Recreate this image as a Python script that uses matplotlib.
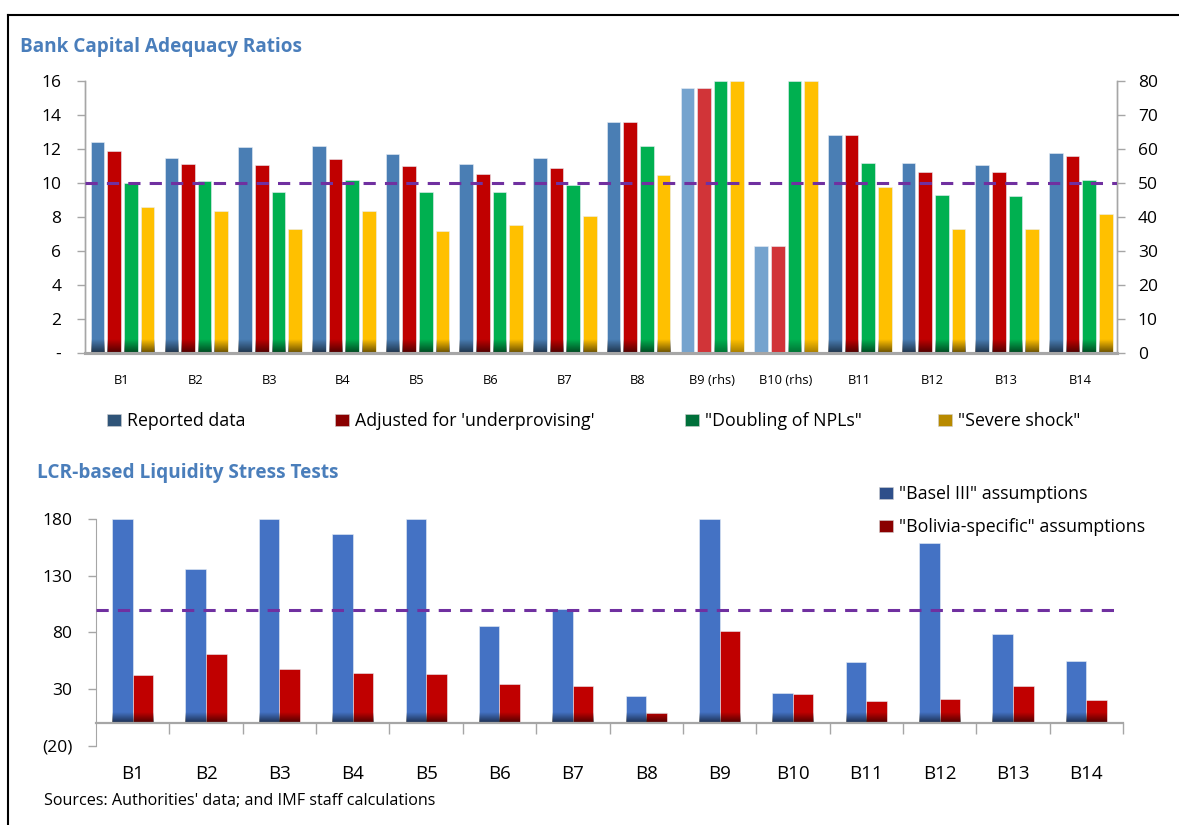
import numpy as np
import matplotlib
matplotlib.use("Agg")
import matplotlib.pyplot as plt
from matplotlib.patches import Patch
from matplotlib.lines import Line2D

plt.rcParams['font.family'] = ['Open Sans', 'DejaVu Sans']

# ---------------- data ----------------
banks = ["B1", "B2", "B3", "B4", "B5", "B6", "B7", "B8", "B9", "B10",
         "B11", "B12", "B13", "B14"]
top_labels = ["B1", "B2", "B3", "B4", "B5", "B6", "B7", "B8", "B9 (rhs)",
              "B10 (rhs)", "B11", "B12", "B13", "B14"]
nan = np.nan
# left axis (B9, B10 on right axis)
reported = [12.4, 11.5, 12.1, 12.2, 11.7, 11.1, 11.5, 13.6, nan, nan, 12.8, 11.15, 11.05, 11.75]
adjusted = [11.9, 11.1, 11.05, 11.4, 11.0, 10.55, 10.9, 13.6, nan, nan, 12.8, 10.65, 10.65, 11.6]
doubling = [10.0, 10.1, 9.45, 10.2, 9.45, 9.45, 9.9, 12.15, nan, nan, 11.15, 9.3, 9.25, 10.15]
severe = [8.6, 8.35, 7.3, 8.35, 7.2, 7.55, 8.05, 10.5, nan, nan, 9.75, 7.3, 7.3, 8.2]
# right axis (rhs) values for B9, B10
rhs_banks = [8, 9]
reported_rhs = [78, 31.5]
adjusted_rhs = [78, 31.5]
doubling_rhs = [80, 80]
severe_rhs = [80, 80]
car_threshold = 10

basel = [180, 136, 180, 167, 180, 86, 101, 24, 180, 26.5, 53.5, 158.5, 78.5, 54.5]
bolivia = [42, 61, 48, 44, 43, 34, 33, 9, 81, 25.5, 19, 21.5, 33, 20.5]
lcr_threshold = 100

series_names = ["Reported data", "Adjusted for 'underprovising'",
                "\"Doubling of NPLs\"", "\"Severe shock\""]
lcr_names = ["\"Basel III\" assumptions", "\"Bolivia-specific\" assumptions"]

# ---------------- style ----------------
C_BLUE = "#4A7EB4"
C_RED = "#C00000"
C_GREEN = "#00B050"
C_YEL = "#FFC000"
C_LBLUE = "#75A3CE"
C_LRED = "#D13438"
H_BLUE = "#2F5478"
H_RED = "#8A0000"
H_GREEN = "#00703A"
H_YEL = "#B88A00"
C_BASEL = "#4472C4"
C_BOL = "#C00000"
PURPLE = "#7030A0"
TITLE_C = "#4A7EBB"
SPINE_C = "#A6A6A6"

W, H = 1179, 825
fig = plt.figure(figsize=(W / 100, H / 100), dpi=100)

def fx(px):
    return px / W

def fy(py):
    return 1 - py / H

# frame
fig.add_artist(Line2D([fx(8), fx(8)], [fy(15), fy(830)], color="black", lw=1.5))
fig.add_artist(Line2D([fx(8), fx(1185)], [fy(15), fy(15)], color="black", lw=1.5))

def shade(ax, rects, px=13, alpha=0.6):
    grad = np.zeros((40, 1, 4))
    grad[:, 0, 3] = np.linspace(alpha, 0, 40)
    y0 = ax.transData.transform((0, 0))[1]
    yd = ax.transData.inverted().transform((0, y0 + px))[1]
    for r in rects:
        h = r.get_height()
        if not np.isfinite(h) or h <= 0:
            continue
        x0 = r.get_x()
        w = r.get_width()
        ax.imshow(grad, extent=[x0, x0 + w, 0, min(yd, h)], origin="lower",
                  aspect="auto", zorder=r.get_zorder() + 0.1, interpolation="bilinear")

# ---------------- top chart ----------------
ax = fig.add_axes([fx(85), fy(353), fx(1117 - 85), (353 - 81) / H])
ax2 = ax.twinx()
x = np.arange(len(banks))
step = 0.226
bw = 0.185
offs = np.array([-1.5, -0.5, 0.5, 1.5]) * step + 0.01
left_series = [reported, adjusted, doubling, severe]
right_series = [reported_rhs, adjusted_rhs, doubling_rhs, severe_rhs]
lcols = [C_BLUE, C_RED, C_GREEN, C_YEL]
rcols = [C_LBLUE, C_LRED, C_GREEN, C_YEL]

ax.set_xlim(-0.5, len(banks) - 0.5)
ax.set_ylim(0, 16)
ax2.set_ylim(0, 80)

left_containers = []
for i in range(4):
    bc = ax.bar(x + offs[i], left_series[i], bw, color=lcols[i],
                edgecolor="#E8EEF5", linewidth=0.4, zorder=2)
    left_containers.append(bc)
right_containers = []
for i in range(4):
    bc = ax2.bar(np.array(rhs_banks) + offs[i], right_series[i], bw, color=rcols[i],
                 edgecolor="#E8EEF5", linewidth=0.4, zorder=2)
    right_containers.append(bc)
ax.set_xlim(-0.5, len(banks) - 0.5)
ax.set_ylim(0, 16)
ax2.set_ylim(0, 80)
for bc in left_containers:
    shade(ax, bc.patches, px=14)
for bc, c in zip(right_containers, rcols):
    if c in (C_GREEN, C_YEL):
        shade(ax2, bc.patches, px=14, alpha=0.35)
ax.set_xlim(-0.5, len(banks) - 0.5)
ax.set_ylim(0, 16)
ax2.set_ylim(0, 80)

ax2.axhline(car_threshold * 5, color=PURPLE, lw=2.2, ls=(0, (4, 3)), zorder=5)

ax.set_yticks(np.arange(0, 17, 2))
ax.set_yticklabels(["-"] + [str(v) for v in range(2, 17, 2)])
ax2.set_yticks(np.arange(0, 81, 10))
ax.set_xticks(x)
ax.set_xticklabels(top_labels)
ax.tick_params(axis="x", length=0, pad=15, labelsize=9.3)
ax.tick_params(axis="y", length=6, width=1, color=SPINE_C, labelsize=12.5, pad=11)
ax2.tick_params(axis="y", length=6, width=1, color=SPINE_C, labelsize=12.5, pad=9)
for a in (ax, ax2):
    a.spines["top"].set_visible(False)
    for s in ("left", "right"):
        a.spines[s].set_color(SPINE_C)
        a.spines[s].set_linewidth(1)
    a.spines["bottom"].set_color(SPINE_C)
    a.spines["bottom"].set_linewidth(2.2)
    a.patch.set_visible(False)

fig.text(fx(20), fy(47), "Bank Capital Adequacy Ratios", fontsize=13.7,
         fontweight="bold", color=TITLE_C, va="center", ha="left")

handles = [Patch(facecolor=c, edgecolor="#D0D0D0", linewidth=0.4)
           for c in [H_BLUE, H_RED, H_GREEN, H_YEL]]
legend_x = [107, 335, 685, 938]
for hdl, name, lx in zip(handles, series_names, legend_x):
    lg = fig.legend([hdl], [name], loc="center left",
                    bbox_to_anchor=(fx(lx), fy(421)), frameon=False, fontsize=12.8,
                    handlelength=0.8, handleheight=0.7, handletextpad=0.3,
                    borderpad=0, borderaxespad=0)

# ---------------- bottom chart ----------------
bx = fig.add_axes([fx(96), fy(745.7), fx(1123 - 96), (745.7 - 519) / H])
lw = 0.28
b1 = bx.bar(x - lw / 2, basel, lw, color=C_BASEL, edgecolor="#E8EEF5",
            linewidth=0.4, zorder=2, label=lcr_names[0])
b2 = bx.bar(x + lw / 2, bolivia, lw, color=C_BOL, edgecolor="#E8EEF5",
            linewidth=0.4, zorder=2, label=lcr_names[1])
bx.set_xlim(-0.5, len(banks) - 0.5)
bx.set_ylim(-20, 180)
shade(bx, b1.patches, px=11)
shade(bx, b2.patches, px=11)
bx.set_xlim(-0.5, len(banks) - 0.5)
bx.set_ylim(-20, 180)
bx.axhline(lcr_threshold, color=PURPLE, lw=2.2, ls=(0, (4, 3)), zorder=5)

bx.set_yticks([-20, 30, 80, 130, 180])
bx.set_yticklabels(["(20)", "30", "80", "130", "180"])
bx.set_xticks(x)
bx.set_xticklabels(banks)
bx.set_xticks(np.arange(0.5, len(banks), 1), minor=True)
bx.tick_params(axis="x", which="major", length=0, pad=30, labelsize=13.5)
bx.tick_params(axis="x", which="minor", length=8, width=1, color=SPINE_C, direction="out")
bx.tick_params(axis="y", length=6, width=1, color=SPINE_C, labelsize=12.5, pad=11)
bx.spines["top"].set_visible(False)
bx.spines["right"].set_visible(False)
bx.spines["left"].set_color(SPINE_C)
bx.spines["bottom"].set_color(SPINE_C)
bx.spines["bottom"].set_linewidth(1.6)
bx.spines["bottom"].set_position(("data", 0))
bx.patch.set_visible(False)

fig.text(fx(37), fy(473), "LCR-based Liquidity Stress Tests", fontsize=13.7,
         fontweight="bold", color=TITLE_C, va="center", ha="left")

lh = [Patch(facecolor="#2E4F8A", edgecolor="#D0D0D0", linewidth=0.4),
      Patch(facecolor=H_RED, edgecolor="#D0D0D0", linewidth=0.4)]
fig.legend(lh, lcr_names, loc="upper left", bbox_to_anchor=(fx(879), fy(485)),
           frameon=False, fontsize=12.8, handlelength=0.8, handleheight=0.7,
           handletextpad=0.3, labelspacing=0.85, borderpad=0, borderaxespad=0)

fig.text(fx(44), fy(801), "Sources: Authorities' data; and IMF staff calculations",
         fontsize=11.6, va="center", ha="left")

fig.savefig("out.png", dpi=100)
